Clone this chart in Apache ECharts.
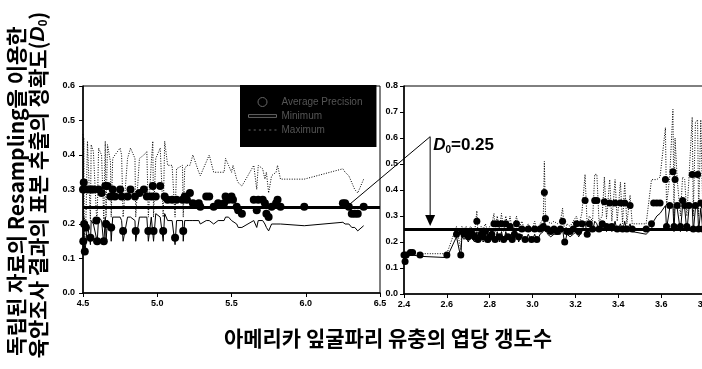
<!DOCTYPE html>
<html><head><meta charset="utf-8">
<script src="https://cdn.jsdelivr.net/npm/echarts@6/dist/echarts.min.js"></script>
<style>html,body{margin:0;padding:0;background:#fff}#c{width:702px;height:369px}</style>
</head><body><div id="c"></div>
<script>
// ---- Left panel data (larvae count 4.5 - 6.5) ----
const leftX = [
 4.500,4.502,4.505,4.508,4.512,4.520,4.530,4.550,4.555,4.570,
 4.590,4.595,4.605,4.625,4.640,4.650,4.655,4.665,4.685,4.690,
 4.700,4.715,4.750,4.760,4.770,4.800,4.820,4.850,4.855,4.880,
 4.910,4.930,4.940,4.960,4.970,4.975,4.990,5.020,5.040,5.050,
 5.070,5.100,5.120,5.130,5.170,5.175,5.185,5.200,5.220,5.240,
 5.280,5.290,5.330,5.350,5.380,5.410,5.450,5.460,5.480,5.500,
 5.510,5.535,5.545,5.570,5.650,5.670,5.680,5.710,5.725,5.735,
 5.750,5.770,5.800,5.810,5.830,5.990,6.250,6.265,6.290,6.310,
 6.330,6.350,6.390];
const leftAvg = [
 0.30,0.15,0.32,0.20,0.12,0.19,0.30,0.16,0.30,0.30,
 0.21,0.15,0.30,0.29,0.15,0.31,0.20,0.31,0.28,0.19,
 0.30,0.28,0.30,0.28,0.18,0.28,0.30,0.28,0.18,0.29,
 0.30,0.28,0.18,0.28,0.31,0.18,0.28,0.31,0.18,0.28,
 0.27,0.27,0.16,0.27,0.27,0.18,0.28,0.27,0.29,0.26,
 0.26,0.25,0.28,0.28,0.25,0.26,0.26,0.28,0.27,0.28,
 0.27,0.25,0.24,0.23,0.27,0.24,0.27,0.27,0.26,0.23,
 0.22,0.25,0.26,0.27,0.25,0.25,0.26,0.26,0.25,0.23,
 0.23,0.23,0.25];
const leftMin = [
 0.20,0.13,0.22,0.16,0.11,0.15,0.20,0.14,0.21,0.20,
 0.16,0.14,0.22,0.21,0.14,0.22,0.15,0.21,0.20,0.15,
 0.22,0.22,0.22,0.21,0.15,0.22,0.22,0.21,0.15,0.22,
 0.22,0.22,0.15,0.22,0.22,0.15,0.23,0.22,0.15,0.23,
 0.21,0.21,0.14,0.21,0.21,0.15,0.21,0.21,0.21,0.21,
 0.21,0.20,0.21,0.21,0.20,0.21,0.21,0.22,0.22,0.21,
 0.21,0.20,0.19,0.19,0.21,0.19,0.21,0.21,0.20,0.19,
 0.18,0.20,0.20,0.20,0.20,0.195,0.205,0.20,0.20,0.19,
 0.19,0.18,0.195];
const leftMax = [
 0.46,0.22,0.45,0.24,0.16,0.22,0.44,0.21,0.43,0.41,
 0.23,0.20,0.42,0.40,0.21,0.44,0.22,0.43,0.38,0.22,
 0.39,0.40,0.42,0.40,0.22,0.39,0.42,0.39,0.22,0.39,
 0.40,0.41,0.22,0.38,0.44,0.22,0.39,0.42,0.22,0.44,
 0.37,0.37,0.22,0.36,0.37,0.22,0.36,0.37,0.37,0.40,
 0.35,0.34,0.38,0.40,0.35,0.35,0.35,0.39,0.37,0.35,
 0.37,0.33,0.32,0.31,0.37,0.30,0.37,0.36,0.33,0.35,
 0.29,0.34,0.35,0.37,0.33,0.33,0.36,0.35,0.34,0.32,
 0.30,0.29,0.33];

// ---- Right panel data (larvae count 2.4 - 3.8) ----
const rightX = [
 2.400,2.405,2.410,2.430,2.440,2.475,2.600,2.645,2.665,2.670,
 2.680,2.690,2.700,2.710,2.720,2.730,2.740,2.745,2.760,2.770,
 2.780,2.790,2.800,2.810,2.820,2.825,2.835,2.845,2.855,2.865,
 2.875,2.885,2.895,2.905,2.915,2.925,2.935,2.950,2.965,2.980,
 2.995,3.010,3.020,3.035,3.050,3.055,3.060,3.070,3.085,3.100,
 3.115,3.130,3.140,3.150,3.160,3.175,3.190,3.205,3.215,3.230,
 3.245,3.255,3.265,3.280,3.290,3.300,3.310,3.325,3.335,3.345,
 3.360,3.370,3.385,3.395,3.410,3.420,3.430,3.440,3.455,3.465,
 3.530,3.555,3.565,3.580,3.595,3.620,3.625,3.640,3.655,3.660,
 3.665,3.675,3.690,3.700,3.710,3.720,3.730,3.745,3.750,3.760,
 3.770,3.775,3.785,3.795,3.800];
const rightAvg = [
 0.15,0.125,0.15,0.16,0.16,0.15,0.15,0.23,0.15,0.24,
 0.23,0.24,0.22,0.24,0.23,0.22,0.28,0.21,0.23,0.22,
 0.24,0.21,0.22,0.23,0.27,0.21,0.27,0.22,0.27,0.21,
 0.27,0.22,0.26,0.21,0.23,0.27,0.22,0.25,0.21,0.25,
 0.21,0.25,0.21,0.25,0.26,0.39,0.29,0.25,0.24,0.25,
 0.24,0.25,0.28,0.20,0.24,0.24,0.25,0.27,0.24,0.27,
 0.36,0.23,0.27,0.25,0.36,0.36,0.25,0.27,0.355,0.26,
 0.35,0.26,0.35,0.25,0.35,0.25,0.35,0.25,0.34,0.25,
 0.25,0.27,0.35,0.35,0.35,0.44,0.26,0.34,0.47,0.26,
 0.44,0.34,0.26,0.36,0.34,0.26,0.34,0.46,0.25,0.34,
 0.46,0.25,0.35,0.25,0.34];
const rightMin = [
 0.14,0.12,0.14,0.15,0.15,0.145,0.14,0.22,0.14,0.22,
 0.21,0.22,0.20,0.22,0.21,0.20,0.24,0.20,0.21,0.20,
 0.22,0.20,0.20,0.21,0.23,0.20,0.24,0.20,0.24,0.20,
 0.24,0.21,0.23,0.20,0.21,0.24,0.20,0.23,0.20,0.23,
 0.20,0.23,0.20,0.23,0.24,0.29,0.26,0.23,0.22,0.23,
 0.23,0.23,0.25,0.19,0.23,0.22,0.23,0.24,0.22,0.24,
 0.28,0.22,0.24,0.24,0.28,0.27,0.24,0.25,0.28,0.24,
 0.27,0.24,0.28,0.24,0.27,0.24,0.28,0.24,0.27,0.24,
 0.23,0.25,0.28,0.30,0.31,0.34,0.25,0.33,0.34,0.24,
 0.34,0.33,0.24,0.34,0.33,0.24,0.33,0.34,0.24,0.33,
 0.34,0.24,0.33,0.24,0.33];
const rightMax = [
 0.16,0.13,0.16,0.165,0.165,0.155,0.155,0.26,0.17,0.26,
 0.25,0.26,0.24,0.26,0.25,0.24,0.32,0.23,0.26,0.25,
 0.27,0.24,0.26,0.27,0.31,0.24,0.30,0.25,0.31,0.24,
 0.30,0.26,0.30,0.24,0.26,0.30,0.25,0.28,0.24,0.27,
 0.24,0.28,0.24,0.27,0.29,0.51,0.31,0.28,0.27,0.28,
 0.27,0.28,0.33,0.23,0.27,0.26,0.28,0.30,0.26,0.31,
 0.46,0.26,0.30,0.28,0.46,0.46,0.28,0.30,0.45,0.29,
 0.44,0.28,0.44,0.28,0.43,0.27,0.43,0.27,0.38,0.27,
 0.27,0.44,0.44,0.44,0.45,0.64,0.34,0.45,0.71,0.30,
 0.60,0.44,0.30,0.45,0.44,0.30,0.45,0.68,0.30,0.66,
 0.67,0.30,0.67,0.30,0.66];

const D0 = 0.25;
const seriesNames = ['Average Precision', 'Minimum', 'Maximum'];
const xTitle = '아메리카 잎굴파리 유충의 엽당 갱도수';
const yTitle1 = '독립된 자료의 Resampling을 이용한';
const yTitle2Text = '육안조사 결과의 표본 추출의 정확도(';
const annotText = '=0.25';

const pairs = (xs, ys) => xs.map((x, i) => [x, ys[i]]);
const tickFont = {fontFamily: 'Liberation Sans', fontWeight: 'bold', fontSize: 9, color: '#000'};
const fmt = v => v.toFixed(1);

function xAxisCfg(gi, min, max, interval) {
  return {type: 'value', gridIndex: gi, min, max, interval,
    axisLine: {show: true, lineStyle: {color: '#000', width: 1.5}},
    axisTick: {show: true, length: 4, lineStyle: {color: '#000', width: 1}},
    axisLabel: Object.assign({margin: 6, formatter: fmt, showMaxLabel: true, hideOverlap: false}, tickFont),
    splitLine: {show: false}};
}
function yAxisCfg(gi, max) {
  return {type: 'value', gridIndex: gi, min: 0, max, interval: 0.1,
    axisLine: {show: true, lineStyle: {color: '#000', width: 1.5}},
    axisTick: {show: true, length: 4, lineStyle: {color: '#000', width: 1}},
    axisLabel: Object.assign({margin: gi === 0 ? 8 : 6, formatter: fmt}, tickFont),
    splitLine: {show: false}};
}
const d0Line = {silent: true, symbol: ['none', 'none'], label: {show: false},
  lineStyle: {color: '#000', width: 3, type: 'solid'}, data: [{yAxis: D0}]};

function panelSeries(gi, xs, avg, mn, mx, size) {
  return [
    {name: seriesNames[1], type: 'line', xAxisIndex: gi, yAxisIndex: gi, data: pairs(xs, mn),
      showSymbol: false, symbol: 'none', lineStyle: {color: '#000', width: 1}, itemStyle: {color: '#000'},
      z: 2, animation: false, markLine: d0Line},
    {name: seriesNames[2], type: 'line', xAxisIndex: gi, yAxisIndex: gi, data: pairs(xs, mx),
      showSymbol: false, symbol: 'none', lineStyle: {color: '#000', width: 1, type: [1, 1.5]}, itemStyle: {color: '#000'},
      z: 2, animation: false},
    {name: seriesNames[0], type: 'scatter', xAxisIndex: gi, yAxisIndex: gi, data: pairs(xs, avg),
      symbol: 'circle', symbolSize: size, itemStyle: {color: '#000', opacity: 1}, z: 3, animation: false}
  ];
}

const chart = echarts.init(document.getElementById('c'), null, {renderer: 'canvas'});
chart.setOption({
  animation: false,
  backgroundColor: '#fff',
  grid: [
    {left: 83, top: 86, width: 297, height: 207, show: true, borderColor: '#000', borderWidth: 1,
      backgroundColor: 'transparent', containLabel: false, outerBoundsMode: 'none'},
    {left: 404, top: 86, width: 300, height: 208, show: true, borderColor: '#000', borderWidth: 1,
      backgroundColor: 'transparent', containLabel: false, outerBoundsMode: 'none'}
  ],
  xAxis: [xAxisCfg(0, 4.5, 6.5, 0.5), xAxisCfg(1, 2.4, 3.8, 0.2)],
  yAxis: [yAxisCfg(0, 0.6), yAxisCfg(1, 0.8)],
  legend: {
    orient: 'vertical', left: 240, top: 85, selectedMode: false,
    backgroundColor: '#000', padding: [12, 14, 12, 8], itemGap: 4,
    itemWidth: 28, itemHeight: 9,
    textStyle: {color: '#555', fontFamily: 'Liberation Sans', fontSize: 10},
    data: [
      {name: seriesNames[0], icon: 'circle', itemStyle: {color: '#000', borderColor: '#666', borderWidth: 1}},
      {name: seriesNames[1], icon: 'path://M0,0 L30,0 L30,3 L0,3 Z', itemStyle: {color: '#000', borderColor: '#666', borderWidth: 1}},
      {name: seriesNames[2], icon: 'path://M0,0h2v1h-2z M5,0h2v1h-2z M10,0h2v1h-2z M15,0h2v1h-2z M20,0h2v1h-2z M25,0h2v1h-2z', itemStyle: {color: '#666', borderWidth: 0}}
    ]
  },
  series: [].concat(
    panelSeries(0, leftX, leftAvg, leftMin, leftMax, 8),
    panelSeries(1, rightX, rightAvg, rightMin, rightMax, 7)
  )
});

// annotation positions derived from the data coordinates
const pStart = chart.convertToPixel({xAxisIndex: 0, yAxisIndex: 0}, [6.29, 0.255]);
const pElbow = chart.convertToPixel({xAxisIndex: 1, yAxisIndex: 1}, [2.522, 0.605]);
const pTip = chart.convertToPixel({xAxisIndex: 1, yAxisIndex: 1}, [2.522, 0.262]);

chart.setOption({
  graphic: [
    {type: 'polyline', shape: {points: [pStart, pElbow, [pElbow[0], pTip[1] - 10]]},
      style: {stroke: '#000', lineWidth: 1, fill: null}, z: 10},
    {type: 'polygon', shape: {points: [[pTip[0] - 5, pTip[1] - 11], [pTip[0] + 5, pTip[1] - 11], [pTip[0], pTip[1]]]},
      style: {fill: '#000'}, z: 10},
    {type: 'text', x: pElbow[0] + 3, y: pElbow[1] + 9, z: 10,
      style: {text: '{i|D}{s|0}{n|' + annotText + '}', verticalAlign: 'middle', align: 'left',
        rich: {
          i: {fontFamily: 'Liberation Sans', fontStyle: 'italic', fontWeight: 'bold', fontSize: 17, fill: '#000'},
          s: {fontFamily: 'Liberation Sans', fontWeight: 'bold', fontSize: 10, fill: '#000', verticalAlign: 'bottom', padding: [10, 0, 0, 0]},
          n: {fontFamily: 'Liberation Sans', fontWeight: 'bold', fontSize: 17, fill: '#000'}
        }}},
    {type: 'text', x: 388, y: 338, z: 10,
      style: {text: xTitle, align: 'center', verticalAlign: 'middle',
        font: 'bold 21px "Noto Sans CJK KR"', fill: '#000'}},
    {type: 'text', x: 16, y: 191, rotation: Math.PI / 2, z: 10,
      style: {text: yTitle1, align: 'center', verticalAlign: 'middle',
        font: 'bold 21px "Noto Sans CJK KR"', fill: '#000'}},
    {type: 'text', x: 38, y: 185, rotation: Math.PI / 2, z: 10,
      style: {text: '{k|' + yTitle2Text + '}{i|D}{s|0}{k|)}', align: 'center', verticalAlign: 'middle',
        rich: {
          k: {fontFamily: 'Noto Sans CJK KR', fontWeight: 'bold', fontSize: 21, fill: '#000'},
          i: {fontFamily: 'Liberation Sans', fontStyle: 'italic', fontWeight: 'bold', fontSize: 21, fill: '#000'},
          s: {fontFamily: 'Liberation Sans', fontWeight: 'bold', fontSize: 12, fill: '#000', verticalAlign: 'bottom', padding: [12, 0, 0, 0]}
        }}}
  ]
});
</script>
</body></html>
